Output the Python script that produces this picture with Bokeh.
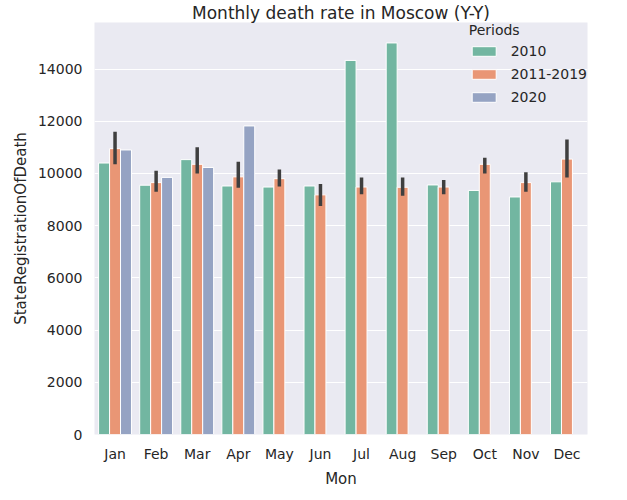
from bokeh.plotting import figure
from bokeh.models import ColumnDataSource, Legend, LegendItem, Range1d
from bokeh.transform import dodge
from bokeh.embed import file_html
from bokeh.resources import INLINE

months = ["Jan","Feb","Mar","Apr","May","Jun","Jul","Aug","Sep","Oct","Nov","Dec"]
periods = ["2010", "2011-2019", "2020"]
v2010 = [10400, 9550, 10530, 9520, 9480, 9520, 14330, 15000, 9560, 9350, 9100, 9680]
v1119 = [10950, 9650, 10350, 9870, 9800, 9180, 9480, 9470, 9480, 10350, 9650, 10550]
ci_lo = [10350, 9300, 10000, 9450, 9500, 8750, 9200, 9150, 9200, 10000, 9300, 9850]
ci_hi = [11600, 10100, 11000, 10450, 10150, 9600, 9850, 9850, 9750, 10600, 10050, 11300]
m2020 = ["Jan","Feb","Mar","Apr"]
v2020 = [10900, 9850, 10230, 11820]
colors = ["#72b6a1", "#e99675", "#95a3c3"]

p = figure(width=619, height=492, x_range=months, y_range=Range1d(0, 15783),
           output_backend="svg", toolbar_location=None,
           title="Monthly death rate in Moscow (Y-Y)",
           min_border_left=94, min_border_right=32, min_border_top=0, min_border_bottom=58)
p.title.text_font = "DejaVu Sans"
p.title.text_font_size = "17px"
p.title.text_font_style = "normal"
p.title.text_color = "#262626"
p.title.align = "center"
p.title.standoff = 0
p.background_fill_color = "#eaeaf2"
p.outline_line_color = None
p.xgrid.grid_line_color = None
p.ygrid.grid_line_color = "white"
p.ygrid.grid_line_width = 1.2
for ax in (p.xaxis[0], p.yaxis[0]):
    ax.axis_line_color = None
    ax.major_tick_line_color = None
    ax.minor_tick_line_color = None
    ax.major_label_text_font = "DejaVu Sans"
    ax.major_label_text_font_size = "14px"
    ax.major_label_text_color = "#262626"
    ax.axis_label_text_font = "DejaVu Sans"
    ax.axis_label_text_font_size = "15px"
    ax.axis_label_text_font_style = "normal"
    ax.axis_label_text_color = "#262626"
p.xaxis.axis_label = "Mon"
p.yaxis.axis_label = "StateRegistrationOfDeath"
p.yaxis.ticker = [0, 2000, 4000, 6000, 8000, 10000, 12000, 14000]
p.yaxis.major_label_standoff = 6

w = 0.8 / 3
s1 = ColumnDataSource(dict(m=months, v=v2010))
s2 = ColumnDataSource(dict(m=months, v=v1119, lo=ci_lo, hi=ci_hi))
s3 = ColumnDataSource(dict(m=m2020, v=v2020))
r1 = p.vbar(x=dodge("m", -w, range=p.x_range), top="v", width=w, source=s1,
            fill_color=colors[0], line_color="white", line_width=1)
r2 = p.vbar(x=dodge("m", 0, range=p.x_range), top="v", width=w, source=s2,
            fill_color=colors[1], line_color="white", line_width=1)
r3 = p.vbar(x=dodge("m", w, range=p.x_range), top="v", width=w, source=s3,
            fill_color=colors[2], line_color="white", line_width=1)
p.segment(x0=dodge("m", 0, range=p.x_range), x1=dodge("m", 0, range=p.x_range),
          y0="lo", y1="hi", source=s2, line_color="#3f3f3f", line_width=3.5)

legend = Legend(items=[LegendItem(label=periods[i], renderers=[r]) for i, r in enumerate([r1, r2, r3])],
                location="top_right", title="Periods")
legend.background_fill_alpha = 0
legend.border_line_color = None
legend.margin = 0
legend.padding = 2
legend.label_text_font = "DejaVu Sans"
legend.label_text_font_size = "14px"
legend.label_text_color = "#262626"
legend.title_text_font = "DejaVu Sans"
legend.title_text_font_size = "14px"
legend.title_text_font_style = "normal"
legend.title_text_color = "#262626"
legend.glyph_width = 30
legend.glyph_height = 12
legend.spacing = 7
legend.label_standoff = 12
p.add_layout(legend, "center")

open("out.html", "w").write(file_html(p, INLINE))
